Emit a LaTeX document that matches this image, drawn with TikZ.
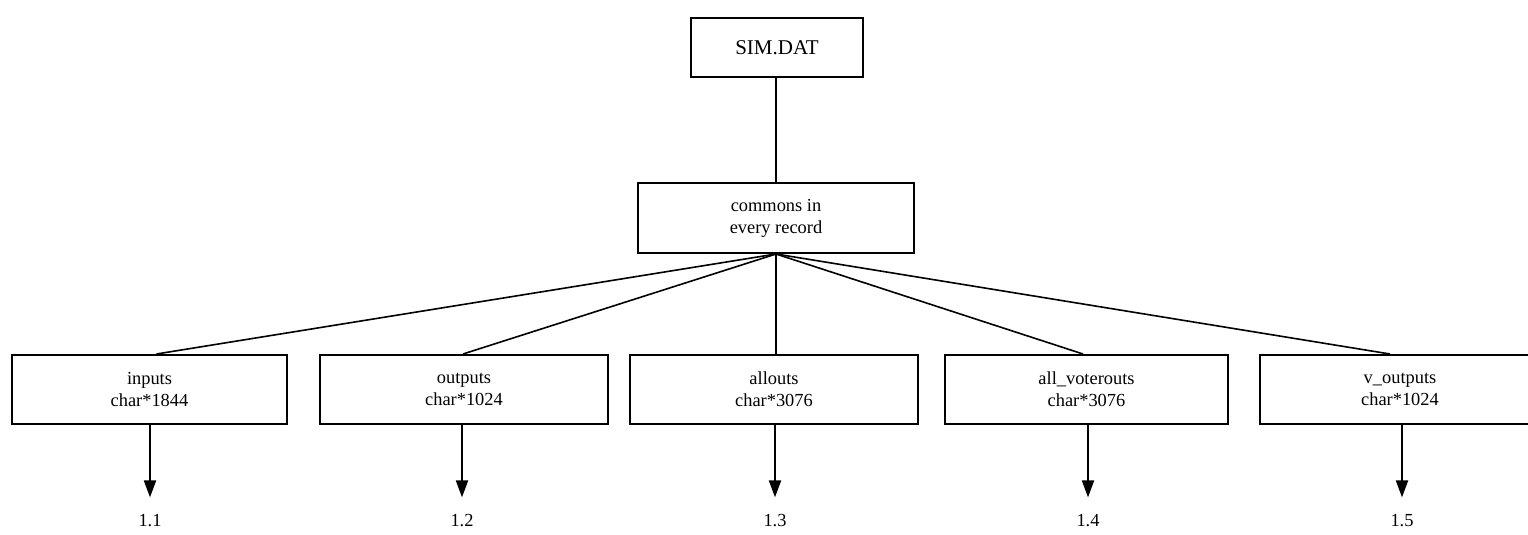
\documentclass[tikz,border=0pt]{standalone}
\usepackage{fontspec}
\setmainfont{Liberation Serif}
\usetikzlibrary{arrows.meta}
\begin{document}
\begin{tikzpicture}[x=0.5pt,y=-0.5pt,
  rec/.style={draw,line width=1pt,inner sep=0pt,align=center,
    font=\fontsize{9.2}{11}\selectfont,minimum height=34.5pt},
  link/.style={line width=0.8pt},
  down/.style={line width=1pt,-{Triangle[length=8.5pt,width=6pt]}},
  num/.style={font=\fontsize{9.2}{11}\selectfont,inner sep=0pt}]
\useasboundingbox (0,0) rectangle (1528,535);

% file and common block
\node[rec,minimum width=86pt,minimum height=29.5pt,
      font=\fontsize{10.5}{12}\selectfont] (sim) at (777,47.5) {SIM.DAT};
\node[rec,minimum width=138pt,minimum height=35pt] (com) at (776,218.5)
  {commons in\\every record};
\coordinate (hub) at (776,254);

% record fields
\node[rec,minimum width=137.5pt] (f1) at (149.5,389.5) {inputs\\char*1844};
\node[rec,minimum width=144pt]   (f2) at (464,389.5)   {outputs\\char*1024};
\node[rec,minimum width=144pt]   (f3) at (774,389.5)   {allouts\\char*3076};
\node[rec,minimum width=141.5pt] (f4) at (1086.5,389.5) {all\_voterouts\\char*3076};
\node[rec,minimum width=140pt]   (f5) at (1400,389.5)  {v\_outputs\\char*1024};

% section numbers
\node[num] (n1) at (150,521)  {1.1};
\node[num] (n2) at (462,521)  {1.2};
\node[num] (n3) at (775,521)  {1.3};
\node[num] (n4) at (1088,521) {1.4};
\node[num] (n5) at (1402,521) {1.5};

% tree connectors
\draw[link] (sim.south -| hub) -- (com.north -| hub);
\draw[link] (hub) -- ([xshift=3.5pt]f1.north);
\draw[link] (hub) -- ([xshift=-0.5pt]f2.north);
\draw[link] (hub) -- (f3.north -| hub);
\draw[link] (hub) -- ([xshift=-1.75pt]f4.north);
\draw[link] (hub) -- ([xshift=-5pt]f5.north);

% arrows to the numbered sections
\draw[down] (f1.south -| n1) -- ([yshift=8.5pt]n1.north);
\draw[down] (f2.south -| n2) -- ([yshift=8.5pt]n2.north);
\draw[down] (f3.south -| n3) -- ([yshift=8.5pt]n3.north);
\draw[down] (f4.south -| n4) -- ([yshift=8.5pt]n4.north);
\draw[down] (f5.south -| n5) -- ([yshift=8.5pt]n5.north);
\end{tikzpicture}
\end{document}
